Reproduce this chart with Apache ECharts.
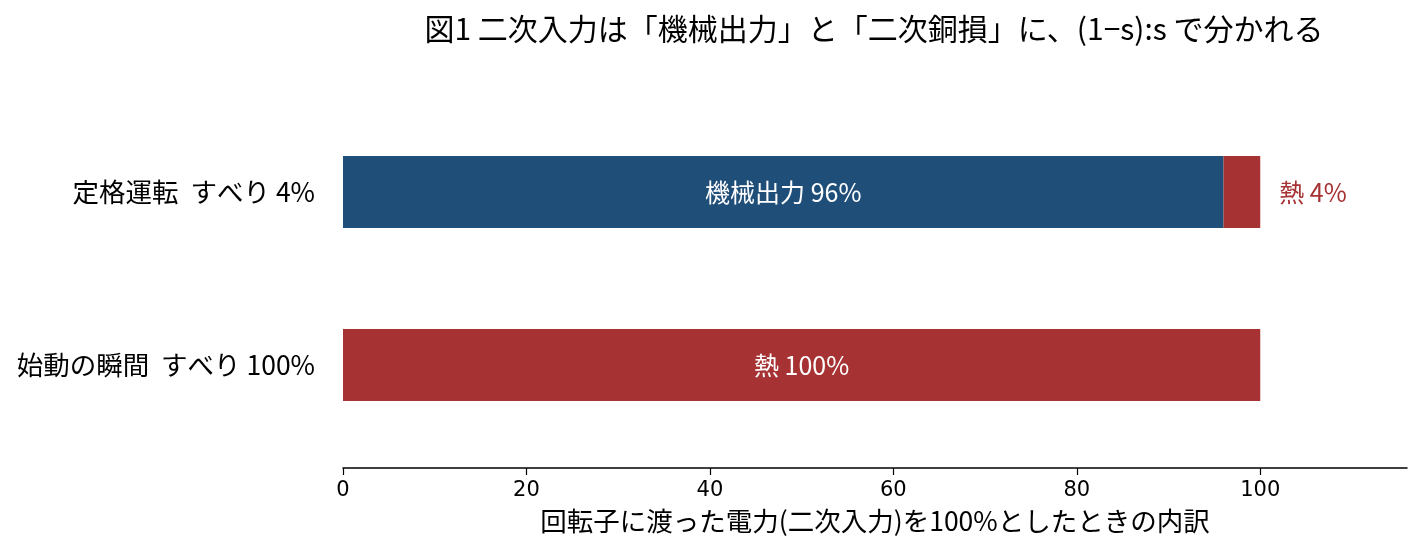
<!DOCTYPE html>
<html>
<head>
<meta charset="utf-8">
<script src="https://cdn.jsdelivr.net/npm/echarts@6/dist/echarts.min.js"></script>
<style>
html, body { margin: 0; padding: 0; background: #fff; }
#main { width: 1422px; height: 557px; }
</style>
</head>
<body>
<div id="main"></div>
<script>
var categories = ['定格運転  すべり 4%', '始動の瞬間  すべり 100%'];
var mechValues = [96, 0];
var heatValues = [4, 100];
var seriesNames = ['機械出力', '熱'];
var xTicks = [0, 20, 40, 60, 80, 100];

var BLUE = '#1f4e79';
var RED = '#a63233';
var FONT = '"Noto Sans CJK JP", "Noto Sans", sans-serif';

function buildData(vals, outColor) {
    var out = [];
    for (var i = 0; i < vals.length; i++) {
        var v = vals[i];
        var item = { value: v };
        if (v === 0) {
            item.label = { show: false };
        } else if (v < 10) {
            // small slice: label outside the bar
            item.label = { show: true, position: 'right', distance: 19, color: outColor };
        }
        out.push(item);
    }
    return out;
}

var myChart = echarts.init(document.getElementById('main'), null, { renderer: 'canvas' });

var option = {
    animation: false,
    textStyle: { fontFamily: FONT },
    title: {
        text: '図1 二次入力は「機械出力」と「二次銅損」に、(1−s):s で分かれる',
        left: 874,
        top: 14,
        padding: 0,
        textAlign: 'center',
        textStyle: { fontFamily: FONT, fontSize: 30, fontWeight: 'normal', color: '#000' }
    },
    grid: {
        left: 343,
        right: 15,
        top: 105.5,
        bottom: 557 - 451.5,
        containLabel: false
    },
    xAxis: {
        type: 'value',
        min: 0,
        max: 116,
        offset: 16.5,
        splitLine: { show: false },
        axisLine: { show: true, lineStyle: { color: '#000', width: 1.5 } },
        axisTick: { show: true, length: 7, lineStyle: { color: '#000', width: 1.2 }, customValues: xTicks },
        axisLabel: { margin: 12, fontSize: 21, color: '#000', fontFamily: '"DejaVu Sans", sans-serif', customValues: xTicks },
        name: '回転子に渡った電力(二次入力)を100%としたときの内訳',
        nameLocation: 'middle',
        nameGap: 40,
        nameTextStyle: { fontSize: 26.5, color: '#000', fontFamily: FONT }
    },
    yAxis: {
        type: 'category',
        inverse: true,
        data: categories,
        axisLine: { show: false },
        axisTick: { show: false },
        splitLine: { show: false },
        axisLabel: { margin: 28, fontSize: 26.5, color: '#000', fontFamily: FONT }
    },
    series: [
        {
            name: seriesNames[0],
            type: 'bar',
            stack: 'total',
            barWidth: 72,
            itemStyle: { color: BLUE },
            label: {
                show: true,
                position: 'inside',
                color: '#fff',
                fontSize: 25,
                fontFamily: FONT,
                formatter: function (p) { return p.seriesName + ' ' + p.value + '%'; }
            },
            data: buildData(mechValues, BLUE)
        },
        {
            name: seriesNames[1],
            type: 'bar',
            stack: 'total',
            barWidth: 72,
            itemStyle: { color: RED },
            label: {
                show: true,
                position: 'inside',
                color: '#fff',
                fontSize: 25,
                fontFamily: FONT,
                formatter: function (p) { return p.seriesName + ' ' + p.value + '%'; }
            },
            data: buildData(heatValues, RED)
        }
    ]
};

myChart.setOption(option, true);
</script>
</body>
</html>
